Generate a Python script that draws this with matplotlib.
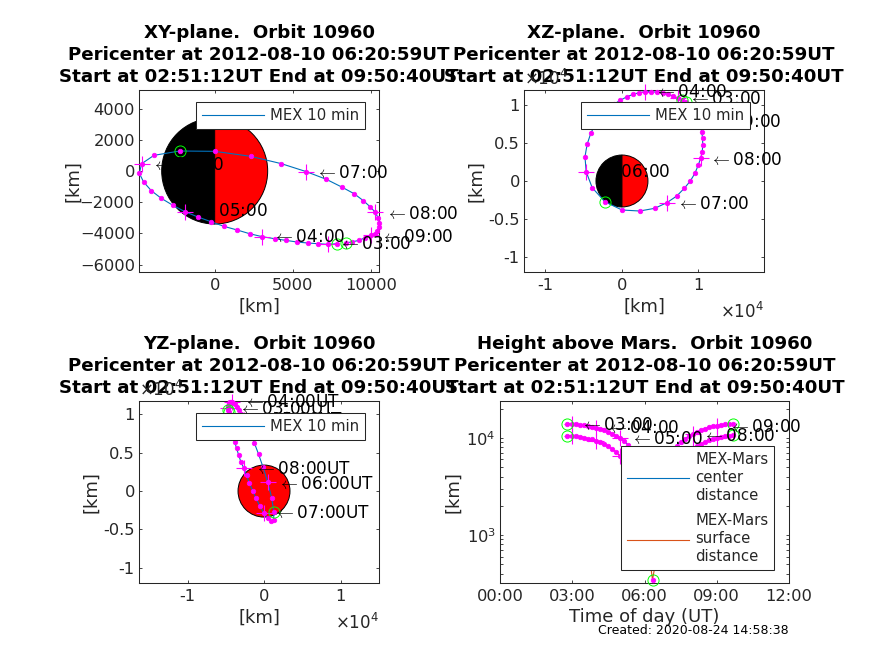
import matplotlib
matplotlib.use('Agg')
import matplotlib.pyplot as plt
from matplotlib.patches import Wedge, Circle
from matplotlib.ticker import NullFormatter
from matplotlib.transforms import offset_copy

# positions, km (MSO-like frame)
time_h = [2.80, 3.0, 3.167, 3.333, 3.5, 3.667, 3.833, 4.0, 4.167, 4.333, 4.5, 4.667, 4.833,
          5.0, 5.167, 5.333, 5.5, 5.667, 5.833, 6.0, 6.167, 6.333, 6.5, 6.667, 6.833,
          7.0, 7.167, 7.333, 7.5, 7.667, 7.833, 8.0, 8.167, 8.333, 8.5, 8.667, 8.833,
          9.0, 9.167, 9.333, 9.5, 9.667]
x_km = [7821, 7287, 6646, 6005, 5300, 4573, 3847, 3056, 2244, 1453, 598, -235, -1068,
        -1902, -2671, -3419, -4060, -4552, -4830, -4680, -3889, -2244, 0, 2308, 4274,
        5877, 7159, 8142, 8933, 9531, 9958, 10279, 10493, 10557, 10535, 10428, 10279,
        10001, 9638, 9253, 8826, 8398]
y_km = [-4659, -4701, -4659, -4616, -4552, -4445, -4338, -4210, -4018, -3782, -3547, -3248, -2949,
        -2607, -2201, -1752, -1261, -705, -150, 470, 1004, 1282, 1261, 940, 470,
        -43, -534, -1026, -1453, -1902, -2287, -2629, -3035, -3312, -3590, -3825, -4018,
        -4103, -4274, -4445, -4530, -4616]
z_km = [10595, 10813, 11118, 11336, 11510, 11598, 11685, 11685, 11554, 11336, 10987, 10551, 10028,
        9330, 8546, 7543, 6278, 4796, 3183, 1221, -872, -2703, -3793, -3924, -3575,
        -2834, -1962, -959, 0, 1003, 2049, 2965, 3837, 4709, 5581, 6409, 7107,
        7848, 8546, 9156, 9723, 10290]
center_km = [13969, 13861, 13766, 13633, 13464, 13236, 13045, 12791, 12437, 12038, 11561, 11042, 10507,
             9873, 9220, 8465, 7582, 6650, 5786, 4859, 4110, 3740, 3997, 4649, 5592,
             6525, 7442, 8262, 9050, 9771, 10421, 11016, 11577, 12025, 12451, 12824, 13127,
             13358, 13572, 13755, 13891, 14000]
surface_km = [10573, 10465, 10370, 10237, 10068, 9840, 9649, 9395, 9041, 8642, 8165, 7646, 7111,
              6477, 5824, 5069, 4186, 3254, 2390, 1463, 714, 344, 601, 1253, 2196,
              3129, 4046, 4866, 5654, 6375, 7025, 7620, 8181, 8629, 9055, 9428, 9731,
              9962, 10176, 10359, 10495, 10604]

hour_labels = ['03:00', '04:00', '05:00', '06:00', '07:00', '08:00', '09:00']
hour_idx = [1, 7, 13, 19, 25, 31, 37]
green_idx = [0, 21, 41]

# where each hour label starts
lab_xy_x = [8078, 3847, -1090, -3868, 6646, 11091, 10792]
lab_xy_y = [-4659, -4231, -2564, 363, -107, -2778, -4231]
lab_xz_x = [8982, 4622, -1090, -2878, 7456, 11816, 11641]
lab_xz_z = [10726, 11598, 9330, 1221, -3008, 2747, 7760]
lab_yz_y = [-3008, -2354, -1800, 2049, 1526, -959, -3400]
lab_yz_z = [10726, 11598, 9330, 959, -2921, 2878, 7848]
lab_h_t = [3.458, 4.51, 5.53, 6.5, 7.5, 8.53, 9.58]
lab_h_v = [13600, 12600, 9700, 4900, 6500, 10550, 12900]

R_mars = 3396
title_tail = 'Pericenter at 2012-08-10 06:20:59UT\nStart at 02:51:12UT End at 09:50:40UT'
DARK = '#262626'
BLUE = '#0072BD'
ORANGE = '#D95319'

W, H = 874, 655
plt.rcParams['font.family'] = 'DejaVu Sans'
fig = plt.figure(figsize=(W / 100, H / 100), dpi=100)


def make_axes(left, top, right, bottom):
    ax = fig.add_axes([left / W, 1 - bottom / H, (right - left) / W, (bottom - top) / H])
    ax.tick_params(which='both', direction='in', top=True, right=True, length=2.2, width=0.6,
                   labelsize=11.7, colors=DARK)
    ax.tick_params(axis='x', which='both', pad=4)
    ax.tick_params(axis='y', which='both', pad=3)
    for s in ax.spines.values():
        s.set_linewidth(0.75)
        s.set_color(DARK)
    return ax


def dress(ax, name):
    ax.set_title(name + '.  Orbit 10960\n' + title_tail, fontsize=13.15, fontweight='bold',
                 pad=5.5, linespacing=1.31, color='black')


def orbit(ax, a, b, label=None, color=BLUE):
    ax.plot(a, b, color=color, lw=0.8, label=label, clip_on=False, zorder=3)


def marks(ax, a, b):
    ax.plot(a, b, ls='none', marker='o', ms=3.3, mfc='#FF00FF', mec='#FF00FF', mew=0.5,
            clip_on=False, zorder=4)
    ax.plot([a[i] for i in hour_idx], [b[i] for i in hour_idx], ls='none', marker='+', ms=12,
            color='#FF00FF', mew=0.8, clip_on=False, zorder=4)
    ax.plot([a[i] for i in green_idx], [b[i] for i in green_idx], ls='none', marker='o', ms=8,
            mfc='none', mec='#00FF00', mew=0.7, clip_on=False, zorder=5)


def hour_text(ax, xs, ys, suffix=''):
    shifted = offset_copy(ax.transData, fig=fig, x=-2, y=0, units='dots')
    for lab, a, b in zip(hour_labels, xs, ys):
        ax.text(a, b, r'$\leftarrow$' + lab + suffix, fontsize=12.2, color='black', va='center', ha='left',
                math_fontfamily='cm', clip_on=False, zorder=10, transform=shifted)


def mars(ax, split=True):
    if split:
        ax.add_patch(Wedge((0, 0), R_mars, 90, 270, fc='black', ec='black', lw=0.7, zorder=2))
        ax.add_patch(Wedge((0, 0), R_mars, -90, 90, fc='red', ec='black', lw=0.7, zorder=2))
    else:
        ax.add_patch(Circle((0, 0), R_mars, fc='red', ec='black', lw=0.7, zorder=2))


def legend_at(ax, left, top, **kw):
    leg = ax.legend(loc='upper left', bbox_to_anchor=(left / W, 1 - top / H), bbox_transform=fig.transFigure,
                    borderaxespad=0, fancybox=False, framealpha=1, edgecolor=DARK, fontsize=10.7,
                    labelcolor=DARK, handlelength=4.2, handletextpad=0.4, borderpad=0.4, **kw)
    leg.get_frame().set_linewidth(0.75)
    leg.set_zorder(20)
    for t in leg.get_texts():
        t.set_linespacing(1.25)


# XY plane
ax1 = make_axes(139, 90, 379, 272)
mars(ax1)
orbit(ax1, x_km, y_km, 'MEX 10 min')
marks(ax1, x_km, y_km)
hour_text(ax1, lab_xy_x, lab_xy_y)
ax1.set_xlim(-4850, 10530)
ax1.set_ylim(-6470, 5190)
ax1.set_xticks([0, 5000, 10000])
ax1.set_yticks([-6000, -4000, -2000, 0, 2000, 4000])
ax1.set_xlabel('[km]', fontsize=13, color=DARK, labelpad=4)
ax1.set_ylabel('[km]', fontsize=13, color=DARK, labelpad=-2)
dress(ax1, 'XY-plane')
legend_at(ax1, 196, 102)

# XZ plane
ax2 = make_axes(524, 90, 764, 272)
mars(ax2)
orbit(ax2, x_km, z_km, 'MEX 10 min')
marks(ax2, x_km, z_km)
hour_text(ax2, lab_xz_x, lab_xz_z)
ax2.set_xlim(-12800, 18560)
ax2.set_ylim(-11900, 11900)
ax2.set_xticks([-10000, 0, 10000])
ax2.set_xticklabels(['-1', '0', '1'])
ax2.set_yticks([-10000, -5000, 0, 5000, 10000])
ax2.set_yticklabels(['-1', '-0.5', '0', '0.5', '1'])
ax2.set_xlabel('[km]', fontsize=13, color=DARK, labelpad=4)
ax2.set_ylabel('[km]', fontsize=13, color=DARK, labelpad=2)
dress(ax2, 'XZ-plane')
legend_at(ax2, 581, 102)

# YZ plane
ax3 = make_axes(139, 401, 379, 583)
mars(ax3, split=False)
orbit(ax3, y_km, z_km, 'MEX 10 min')
marks(ax3, y_km, z_km)
hour_text(ax3, lab_yz_y, lab_yz_z, 'UT')
ax3.set_xlim(-16340, 15030)
ax3.set_ylim(-12000, 11760)
ax3.set_xticks([-10000, 0, 10000])
ax3.set_xticklabels(['-1', '0', '1'])
ax3.set_yticks([-10000, -5000, 0, 5000, 10000])
ax3.set_yticklabels(['-1', '-0.5', '0', '0.5', '1'])
ax3.set_xlabel('[km]', fontsize=13, color=DARK, labelpad=4)
ax3.set_ylabel('[km]', fontsize=13, color=DARK, labelpad=2)
dress(ax3, 'YZ-plane')
legend_at(ax3, 196, 413)

# height
ax4 = make_axes(500, 401, 789, 583)
ax4.set_yscale('log')
orbit(ax4, time_h, center_km, 'MEX-Mars\ncenter\ndistance')
orbit(ax4, time_h, surface_km, 'MEX-Mars\nsurface\ndistance', color=ORANGE)
marks(ax4, time_h, center_km)
marks(ax4, time_h, surface_km)
hour_text(ax4, lab_h_t, lab_h_v)
ax4.set_xlim(0, 12)
ax4.set_ylim(320, 24000)
ax4.set_xticks([0, 3, 6, 9, 12])
ax4.set_xticklabels(['00:00', '03:00', '06:00', '09:00', '12:00'])
ax4.set_yticks([1000, 10000])
ax4.yaxis.set_minor_formatter(NullFormatter())
ax4.set_xlabel('Time of day (UT)', fontsize=13, color=DARK, labelpad=3)
ax4.set_ylabel('[km]', fontsize=13, color=DARK, labelpad=3)
dress(ax4, 'Height above Mars')
legend_at(ax4, 621, 446, labelspacing=0.7)

# x10^4 multipliers
exp_txt = r'$\times\mathregular{10^{4}}$'
fig.text(720 / W, 1 - 318 / H, exp_txt, fontsize=12, color=DARK, va='baseline')
fig.text(335 / W, 1 - 629 / H, exp_txt, fontsize=12, color=DARK, va='baseline')
fig.text(524 / W, 1 - 85 / H, exp_txt, fontsize=12, color=DARK, va='baseline')
fig.text(139 / W, 1 - 396 / H, exp_txt, fontsize=12, color=DARK, va='baseline')

fig.text(598 / W, 1 - 631 / H, 'Created: 2020-08-24 14:58:38', fontsize=9, color='black', va='center')

fig.savefig('out.png', dpi=100)
